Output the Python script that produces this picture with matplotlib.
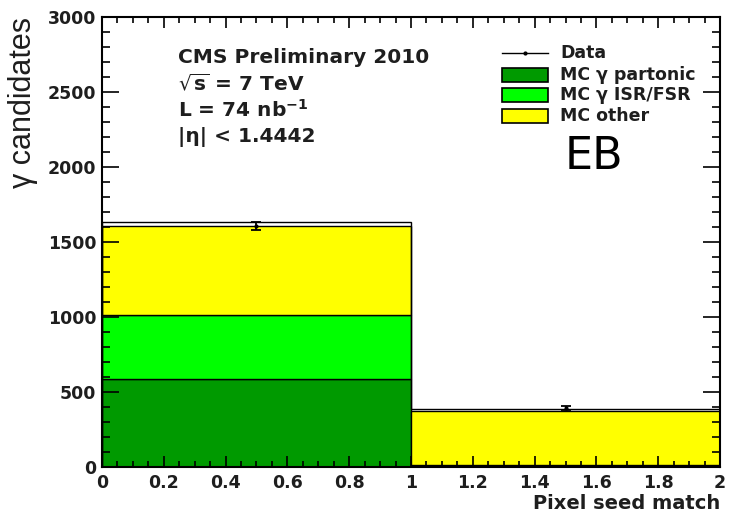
import numpy as np
import matplotlib
matplotlib.use("Agg")
import matplotlib.pyplot as plt
from matplotlib.patches import Rectangle
from matplotlib.lines import Line2D
from matplotlib.ticker import MultipleLocator

plt.rcParams["font.family"] = ["DejaVu Sans"]
plt.rcParams["mathtext.fontset"] = "dejavusans"

# bins of "pixel seed match"
bin_edges = [0, 1, 2]
mc_partonic = [590, 8]
mc_isrfsr = [425, 4]
mc_other = [590, 360]
mc_total = [1635, 388]
data_x = [0.5, 1.5]
data_y = [1605, 395]
data_err = [28, 14]

legend_labels = ["Data", "MC \u03b3 partonic", "MC \u03b3 ISR/FSR", "MC other"]
info_lines = ["CMS Preliminary 2010", r"$\sqrt{\mathbf{s}}$ = 7 TeV",
              r"L = 74 nb$^{\mathbf{-1}}$", "|\u03b7| < 1.4442"]
xtick_labels = ["0", "0.2", "0.4", "0.6", "0.8", "1", "1.2", "1.4", "1.6", "1.8", "2"]
ytick_labels = ["0", "500", "1000", "1500", "2000", "2500", "3000"]

c_partonic = "#009a00"
c_isr = "#00ff00"
c_other = "#ffff00"
txt_col = "#1e1e1e"

fig = plt.figure(figsize=(7.31, 5.17), dpi=100)
ax = fig.add_axes([0.1395, 0.0967, 0.8455, 0.8703])

lefts = np.array(bin_edges[:-1])
widths = np.diff(bin_edges)
bottom = np.zeros(len(lefts))
for vals, col in [(mc_partonic, c_partonic), (mc_isrfsr, c_isr), (mc_other, c_other)]:
    ax.bar(lefts, vals, width=widths, bottom=bottom, align="edge",
           color=col, edgecolor="black", linewidth=1.0)
    bottom += np.array(vals)

# total MC outline
ax.stairs(mc_total, bin_edges, color="black", linewidth=1.0, baseline=0)

ax.errorbar(data_x, data_y, yerr=data_err, fmt="o", color="black",
            markersize=2, elinewidth=1.3, capsize=3.5, capthick=1.3)

ax.set_xlim(0, 2)
ax.set_ylim(0, 3000)
ax.xaxis.set_minor_locator(MultipleLocator(0.05))
ax.yaxis.set_minor_locator(MultipleLocator(100))
ax.set_xticks(np.arange(0, 2.01, 0.2))
ax.set_xticklabels(xtick_labels, fontweight="bold", color=txt_col, fontsize=12.5)
ax.set_yticks(np.arange(0, 3001, 500))
ax.set_yticklabels(ytick_labels, fontweight="bold", color=txt_col, fontsize=12.5)
ax.tick_params(which="both", direction="in", top=True, right=True,
               width=1.2, colors="black")
ax.tick_params(axis="x", which="major", length=8, pad=5)
ax.tick_params(axis="x", which="minor", length=4)
ax.tick_params(axis="y", which="major", length=12, pad=4)
ax.tick_params(axis="y", which="minor", length=6)
for lab in ax.get_xticklabels() + ax.get_yticklabels():
    lab.set_color(txt_col)
for sp in ax.spines.values():
    sp.set_linewidth(1.5)

ax.set_xlabel("Pixel seed match", fontsize=14, fontweight="bold", color=txt_col)
ax.xaxis.set_label_coords(1.0, -0.06)
ax.xaxis.label.set_horizontalalignment("right")
ax.set_ylabel("\u03b3 candidates", fontsize=22, color=txt_col,
              family=["Liberation Sans", "DejaVu Sans"])
ax.yaxis.set_label_coords(-0.152, 1.0)
ax.yaxis.label.set_verticalalignment("top")
ax.yaxis.label.set_horizontalalignment("right")

# info text
ys = [0.911, 0.853, 0.793, 0.733]
for txt, yy in zip(info_lines, ys):
    ax.text(0.123, yy, txt, transform=ax.transAxes, fontsize=14.5,
            fontweight="bold", color=txt_col, va="center")

# legend
lx0, lx1, tx = 0.647, 0.722, 0.741
rows = [0.92, 0.871, 0.827, 0.78]
ax.add_line(Line2D([lx0, lx1], [rows[0], rows[0]], transform=ax.transAxes,
                   color="black", linewidth=1.0))
ax.plot([(lx0 + lx1) / 2], [rows[0]], "o", transform=ax.transAxes,
        color="black", markersize=2)
for col, yy in zip([c_partonic, c_isr, c_other], rows[1:]):
    ax.add_patch(Rectangle((lx0, yy - 0.016), lx1 - lx0, 0.032,
                           transform=ax.transAxes, facecolor=col,
                           edgecolor="black", linewidth=1.2))
for lab, yy in zip(legend_labels, rows):
    ax.text(tx, yy, lab, transform=ax.transAxes, fontsize=12.5,
            fontweight="bold", color=txt_col, va="center")

ax.text(0.749, 0.689, "EB", transform=ax.transAxes, fontsize=32,
        color="black", va="center")

fig.savefig("out.png", dpi=100)
